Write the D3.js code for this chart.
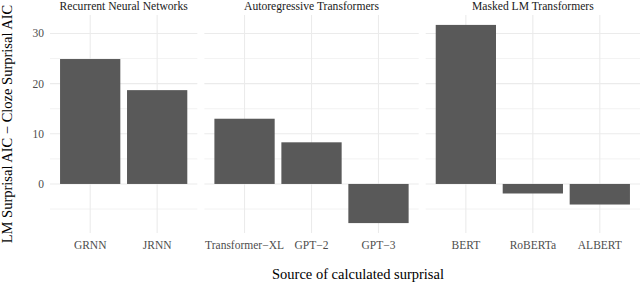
<!DOCTYPE html>
<html>
<head>
<meta charset="utf-8">
<script src="https://cdn.jsdelivr.net/npm/d3@7"></script>
<style>
  body { margin: 0; background: #fff; }
  text { font-family: "Liberation Serif", "DejaVu Serif", serif; }
</style>
</head>
<body>
<div class="chart"></div>
<script>
// facets, models and values
const facets = ["Recurrent Neural Networks", "Autoregressive Transformers", "Masked LM Transformers"];
const models = ["GRNN", "JRNN", "Transformer\u2212XL", "GPT\u22122", "GPT\u22123", "BERT", "RoBERTa", "ALBERT"];
const modelFacet = [0, 0, 1, 1, 1, 2, 2, 2];
const aicDiff = [24.9, 18.7, 13.0, 8.3, -7.8, 31.7, -1.9, -4.1];
const yTicks = [0, 10, 20, 30];
const yMinor = [-5, 5, 15, 25];

const W = 640, H = 282;
const pLeft = 50, pRight = 640, pTop = 15, pBottom = 233, gap = 7;

const svg = d3.select(".chart").append("svg")
    .attr("width", W)
    .attr("height", H);

// y scale with ggplot style 5% expansion
const lo = Math.min(0, d3.min(aicDiff)), hi = Math.max(0, d3.max(aicDiff));
const pad = (hi - lo) * 0.05;
const y = d3.scaleLinear().domain([lo - pad, hi + pad]).range([pBottom, pTop]);

// panel widths proportional to number of categories (free space)
const counts = facets.map((f, i) => modelFacet.filter(m => m === i).length);
const units = counts.map(n => n + 0.2);
const totalW = pRight - pLeft - gap * (facets.length - 1);
const unitW = totalW / d3.sum(units);

let x0 = pLeft;
facets.forEach((f, i) => {
  const w = units[i] * unitW;
  const idx = d3.range(models.length).filter(k => modelFacet[k] === i);
  const x = d3.scalePoint()
      .domain(idx.map(k => models[k]))
      .range([x0, x0 + w])
      .padding(0.6);
  const bw = x.step() * 0.9;

  const g = svg.append("g");

  // gridlines
  g.selectAll(".minor").data(yMinor).enter().append("line")
      .attr("x1", x0).attr("x2", x0 + w)
      .attr("y1", d => y(d)).attr("y2", d => y(d))
      .style("stroke", "#ebebeb").style("stroke-width", 0.6);
  g.selectAll(".major").data(yTicks).enter().append("line")
      .attr("x1", x0).attr("x2", x0 + w)
      .attr("y1", d => y(d)).attr("y2", d => y(d))
      .style("stroke", "#ebebeb").style("stroke-width", 1.1);
  g.selectAll(".vgrid").data(x.domain()).enter().append("line")
      .attr("x1", d => x(d)).attr("x2", d => x(d))
      .attr("y1", pTop).attr("y2", pBottom)
      .style("stroke", "#ebebeb").style("stroke-width", 1.1);

  // bars
  g.selectAll(".bar").data(idx).enter().append("rect")
      .attr("x", k => x(models[k]) - bw / 2)
      .attr("width", bw)
      .attr("y", k => y(Math.max(0, aicDiff[k])))
      .attr("height", k => Math.abs(y(aicDiff[k]) - y(0)))
      .style("fill", "#595959");

  // strip label
  g.append("text")
      .attr("x", x0 + w / 2)
      .attr("y", 9.5)
      .attr("text-anchor", "middle")
      .style("font-size", "11.6px")
      .style("fill", "#1a1a1a")
      .text(f);

  // x tick labels
  g.selectAll(".xlab").data(x.domain()).enter().append("text")
      .attr("x", d => x(d))
      .attr("y", 248.5)
      .attr("text-anchor", "middle")
      .style("font-size", "11.5px")
      .style("fill", "#4d4d4d")
      .text(d => d);

  x0 += w + gap;
});

// y tick labels
svg.selectAll(".ylab").data(yTicks).enter().append("text")
    .attr("x", 44)
    .attr("y", d => y(d))
    .attr("dy", "0.35em")
    .attr("text-anchor", "end")
    .style("font-size", "11.5px")
    .style("fill", "#4d4d4d")
    .text(d => d);

// axis titles
svg.append("text")
    .attr("x", 358)
    .attr("y", 279)
    .attr("text-anchor", "middle")
    .style("font-size", "14.5px")
    .style("fill", "#000")
    .text("Source of calculated surprisal");

svg.append("text")
    .attr("transform", "translate(12," + ((pTop + pBottom) / 2) + ") rotate(-90)")
    .attr("text-anchor", "middle")
    .style("font-size", "14.5px")
    .style("fill", "#000")
    .text("LM Surprisal AIC \u2212 Cloze Surprisal AIC");
</script>
</body>
</html>
